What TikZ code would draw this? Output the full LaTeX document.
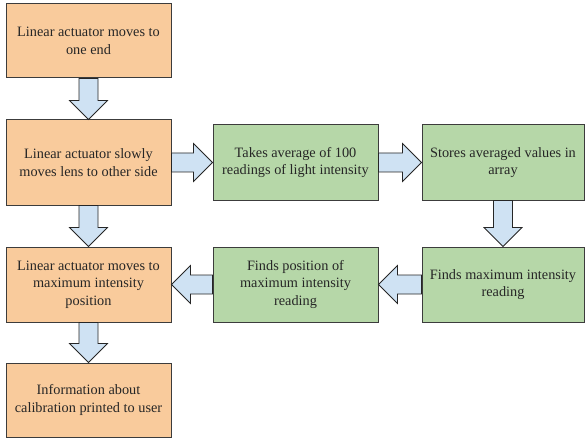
\documentclass[tikz,border=0pt]{standalone}
\usepackage{fontspec}
\setmainfont{Liberation Serif}
\usetikzlibrary{calc}
\definecolor{orangefill}{HTML}{F9CB9C}
\definecolor{greenfill}{HTML}{B6D7A8}
\definecolor{bluefill}{HTML}{CFE2F3}
\definecolor{edge}{HTML}{3C3C3C}
\tikzset{
  box/.style={draw=edge, line width=1pt, align=center, inner sep=2pt,
    font=\fontsize{14.3}{17.4}\selectfont, text=black!85},
  obox/.style={box, fill=orangefill},
  gbox/.style={box, fill=greenfill},
  barrow/.style={draw=black!85, line width=0.8pt, fill=bluefill, line join=miter},
}
\newcommand\blockarrow[2]{%
  \coordinate (ba-s) at (#1);
  \coordinate (ba-e) at (#2);
  \coordinate (ba-h) at ($(ba-e)!19pt!(ba-s)$);
  \draw[barrow] ($(ba-s)!9.5pt!90:(ba-e)$) -- ($(ba-h)!9.5pt!-90:(ba-s)$)
    -- ($(ba-h)!19pt!-90:(ba-s)$) -- (ba-e) -- ($(ba-h)!19pt!90:(ba-s)$)
    -- ($(ba-h)!9.5pt!90:(ba-s)$) -- ($(ba-s)!9.5pt!-90:(ba-e)$) -- cycle;
}
\begin{document}
\begin{tikzpicture}[x=1pt,y=-1pt]
\useasboundingbox (0,0) rectangle (585,438);
\node[obox, minimum width=165pt, minimum height=74pt] (n1) at (88.5,41)
  {Linear actuator moves to\\one end};
\node[obox, minimum width=165pt, minimum height=85pt] (n2) at (88.5,162.5)
  {Linear actuator slowly\\moves lens to other side};
\node[gbox, minimum width=165pt, minimum height=75pt] (n3) at (295.5,162.5)
  {Takes average of 100\\readings of light intensity};
\node[gbox, minimum width=162pt, minimum height=75pt] (n4) at (503,162.5)
  {Stores averaged values in\\array};
\node[gbox, minimum width=162pt, minimum height=75pt] (n5) at (503,284.5)
  {Finds maximum intensity\\reading};
\node[gbox, minimum width=165pt, minimum height=75pt] (n6) at (295.5,284.5)
  {Finds position of\\maximum intensity\\reading};
\node[obox, minimum width=165pt, minimum height=75pt] (n7) at (88.5,284.5)
  {Linear actuator moves to\\maximum intensity\\position};
\node[obox, minimum width=165pt, minimum height=74pt] (n8) at (88.5,400)
  {Information about\\calibration printed to user};
\blockarrow{n1.south}{n2.north}
\blockarrow{n2.east}{n3.west}
\blockarrow{n3.east}{n4.west}
\blockarrow{n4.south}{n5.north}
\blockarrow{n5.west}{n6.east}
\blockarrow{n6.west}{n7.east}
\blockarrow{n2.south}{n7.north}
\blockarrow{n7.south}{n8.north}
\end{tikzpicture}
\end{document}
